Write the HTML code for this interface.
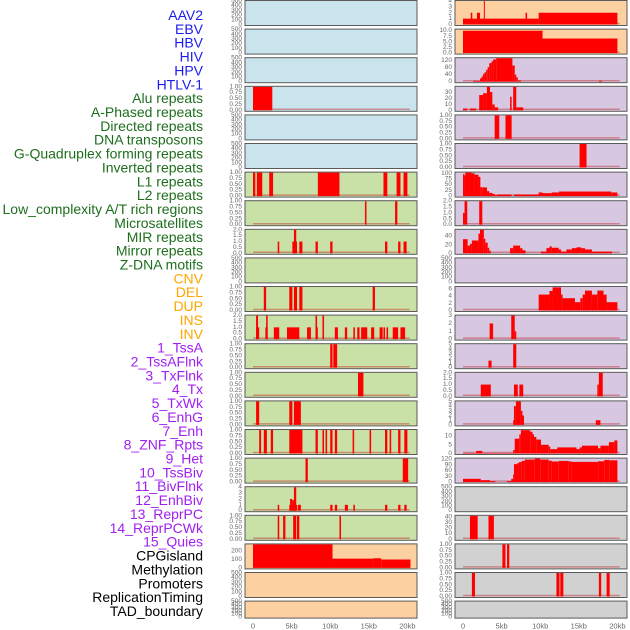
<!DOCTYPE html>
<html><head><meta charset="utf-8"><style>
html,body{margin:0;padding:0;background:#fff;width:630px;height:630px;overflow:hidden}
svg{display:block;font-family:"Liberation Sans",sans-serif}
</style></head><body>
<svg id="chart" width="630" height="630" viewBox="0 0 630 630" xmlns="http://www.w3.org/2000/svg">
<g id="labels"></g>
<g id="panels"></g>
<g id="xaxis"></g>
</svg>
<script>
const trackLabels = ["AAV2","EBV","HBV","HIV","HPV","HTLV-1","Alu repeats","A-Phased repeats","Directed repeats","DNA transposons","G-Quadruplex forming repeats","Inverted repeats","L1 repeats","L2 repeats","Low_complexity A/T rich regions","Microsatellites","MIR repeats","Mirror repeats","Z-DNA motifs","CNV","DEL","DUP","INS","INV","1_TssA","2_TssAFlnk","3_TxFlnk","4_Tx","5_TxWk","6_EnhG","7_Enh","8_ZNF_Rpts","9_Het","10_TssBiv","11_BivFlnk","12_EnhBiv","13_ReprPC","14_ReprPCWk","15_Quies","CPGisland","Methylation","Promoters","ReplicationTiming","TAD_boundary"];
const labelGroups = [6,13,5,15,5];
const groupColors = ["#1c1cf0","#1e6e1e","#ffa500","#a020f0","#000000"];
const xTickLabels = ["0","5kb","10kb","15kb","20kb"];
const xTickValues = [0,5,10,15,20];

const T500 = ["0","100","200","300","400","500"];
const T1 = ["0.00","0.25","0.50","0.75","1.00"];
const T2 = ["0.0","0.5","1.0","1.5","2.0"];
const T4 = ["0","1","2","3","4"];

const leftBgs = ["B","B","B","B","B","B","G","G","G","G","G","G","G","G","G","G","G","G","G","P","P","P"];
const leftTicks = [T500,T500,T500,T1,T500,T500,T1,T1,T2,T500,T1,T2,T1,T1,T1,T1,T1,T4,T1,["0","100","200"],T500,T500];
const leftYmax = [500,500,500,1,500,500,1,1,2,500,1,2,1,1,1,1,1,4,1,280,500,500];
const leftBars = [
 [],[],[],
 [[0,2.5,1]],
 [],[],
 [[0,0.3,1],[0.5,1.2,1],[2.1,2.6,1],[8.4,11.2,1],[16.9,17.4,1],[18.6,19.1,1],[19.5,20,1]],
 [[14.5,14.7,1],[18.4,18.7,1]],
 [[3.2,3.4,1],[5.1,5.7,1],[5.3,5.6,2],[6.0,6.4,1],[8.1,8.4,1],[10.0,10.3,1],[17.1,17.4,1],[18.8,19.1,1],[19.5,19.9,1]],
 [],
 [[1.4,1.7,1],[4.7,5.1,1],[5.3,5.7,1],[6.0,6.4,1],[15.5,15.8,1]],
 [[0.4,0.8,1],[0.4,0.65,2],[1.6,1.9,1],[1.7,1.9,2],[2.7,3.4,1],[4.4,6.0,1],[7.0,7.5,1],[8.1,8.4,1],[8.1,8.3,2],[9.0,9.2,2],[10.6,11.0,1],[11.9,12.2,1],[13.0,13.2,1],[13.5,13.8,1],[14.0,14.8,1],[15.3,15.7,1],[16.4,16.8,1],[16.9,17.1,1],[17.3,17.5,1],[18.1,18.8,1],[19.1,19.7,1]],
 [[10.0,10.3,1],[10.4,10.9,1]],
 [[13.6,14.3,1]],
 [[0.4,0.8,1],[4.7,5.1,1],[5.3,6.2,1]],
 [[0.8,1.05,1],[1.4,1.8,1],[2.3,2.6,1],[4.7,6.4,1],[8.1,8.4,1],[9.0,9.2,1],[9.4,9.6,1],[10.0,10.3,1],[10.6,10.9,1],[12.9,13.1,1],[15.1,15.3,1],[17.1,17.4,1],[17.7,17.9,1],[18.8,19.1,1],[19.6,20,1]],
 [[6.8,7.1,1],[19.4,20.1,1]],
 [[3.2,3.4,1],[4.7,5.7,1],[4.8,5.1,2],[5.1,5.3,1.8],[5.3,5.6,4],[5.8,6.2,1],[10.0,10.3,1],[10.6,10.9,1],[11.9,12.3,1],[13.0,13.2,1],[17.1,17.4,1],[18.8,19.1,1],[19.6,19.9,1]],
 [[3.2,3.4,1],[3.9,4.2,1],[5.2,5.6,1],[5.7,6.0,1],[11.2,11.4,1]],
 [[0,10.3,280],[10.3,15.6,110],[15.6,16.6,115],[16.6,20.4,100]],
 [],[]
];

const rightBgs = ["P","P","U","U","U","U","U","U","U","U","U","U","U","U","U","U","U","R","R","R","R","R"];
const rightTicks = [T4,["0.0","2.5","5.0","7.5","10.0"],["0","40","80","120"],["0","10","20","30"],T1,T1,["0","25","50","75","100"],T2,["0","20","40"],T500,["0","2","4","6"],["0","1","2","3"],["0","1","2","3","4","5"],T2,["0","1","2","3","4","5"],["0","5","10"],["0","30","60","90","120"],T500,["0","10","20","30","40"],T1,T1,T500];
const rightYmax = [4,10.5,132,40,1,1,103,2,55,500,6.5,3,5,2,5,13.5,122,500,42,1,1,500];
const rightBars = [
 [[0,9.8,1],[1.0,1.2,2],[1.8,2.2,2],[2.7,2.8,4],[8.1,8.3,2],[9.8,20,2]],
 [[0,10.3,10],[10.3,20,6.5]],
 [[1.3,2.2,5],[2.2,2.4,18],[2.4,2.6,29],[2.6,2.8,44],[2.8,3.0,53],[3.0,3.2,67],[3.2,3.4,82],[3.4,3.7,104],[3.7,3.9,115],[3.9,4.3,125],[4.3,6.4,132],[6.4,6.7,91],[6.7,6.9,40],[6.9,7.1,25],[7.1,7.5,7],[17.6,18.0,5]],
 [[0,0.55,3],[0.9,1.7,3],[2.1,2.6,26],[2.6,3.1,29],[3.1,3.5,40],[3.5,3.8,31],[3.8,4.1,10],[4.1,4.55,5],[6.1,6.3,23],[6.5,6.9,40],[6.9,7.8,5]],
 [[4.1,4.7,1],[5.5,6.3,1]],
 [[15.1,16.0,1]],
 [[0,0.2,96],[0.2,0.3,90],[0.3,1.1,103],[1.1,1.5,100],[1.5,2.0,94],[2.0,2.25,84],[2.25,2.5,39],[2.5,3.1,38],[3.1,3.4,22],[3.4,3.8,14],[3.8,4.1,10],[4.1,4.4,4],[4.4,6.3,7],[6.6,9.8,7],[9.8,10.3,16],[10.3,11.5,13],[11.5,12.4,16],[12.4,19.2,20],[19.2,20,16]],
 [[0,0.2,1],[0.2,0.55,2],[2.1,2.5,2]],
 [[0,0.6,33],[0.6,0.9,18],[0.9,1.15,22],[1.15,2.0,30],[2.0,2.2,46],[2.2,2.7,55],[2.7,2.9,34],[2.9,3.2,25],[3.2,3.4,13],[3.4,3.6,6],[6.1,6.5,12],[6.5,7.4,18],[7.4,7.7,12],[7.7,8.1,7],[10.1,10.8,4],[10.8,11.2,12],[11.2,11.5,16],[11.5,12.4,13],[12.4,12.7,9],[12.7,13.4,4],[13.4,14.1,9],[14.1,14.7,12],[14.7,15.3,14],[15.3,15.8,12],[15.8,16.7,9],[16.7,19.3,4]],
 [],
 [[9.8,11.2,4.4],[11.2,11.6,5.4],[11.6,12.7,6.4],[12.7,12.9,4.4],[12.9,14.5,3.4],[14.5,15.2,2.3],[15.2,15.5,3.4],[15.5,15.8,4.4],[15.8,16.7,5.5],[16.7,17.4,4.4],[17.4,18.2,5.5],[18.2,18.6,4.4],[18.6,20,2.3]],
 [[3.45,3.9,2],[6.25,6.7,3],[6.7,6.9,1]],
 [[3.3,3.7,1.5],[6.5,6.9,5]],
 [[2.3,3.6,1],[6.6,7.1,1],[7.3,7.8,1],[17.4,17.6,1],[17.6,18.1,2]],
 [[6.5,6.6,1],[6.6,6.85,4],[6.85,7.5,5],[7.5,7.7,3],[7.7,7.9,2],[17.2,17.8,1]],
 [[0,1.7,0.3],[1.7,2.5,1.5],[2.5,6.5,0.3],[6.5,6.7,2],[6.7,7.3,8.5],[7.3,7.5,11],[7.5,8.7,13.4],[8.7,9.0,12.5],[9.0,9.2,11],[9.2,9.5,9.5],[9.5,10.1,8],[10.1,11.1,5],[11.1,11.3,4],[11.3,12.2,2.5],[12.2,14.7,3.5],[14.7,15.1,2.5],[15.1,15.4,3.5],[15.4,17.5,4.5],[17.5,17.8,3],[17.8,18.9,4.5],[18.9,19.6,6.5],[19.6,20,7.5]],
 [[0,2.3,17],[2.3,3.5,10],[3.5,4.2,5],[5.7,6.25,5],[6.25,6.5,17],[6.5,6.6,40],[6.6,7.0,93],[7.0,7.25,98],[7.25,7.6,104],[7.6,8.0,110],[8.0,9.3,117],[9.3,10.0,122],[10.0,11.1,117],[11.1,11.5,111],[11.5,12.4,107],[12.4,13.7,110],[13.7,14.1,107],[14.1,17.5,105],[17.5,18.3,108],[18.3,19.0,115],[19.0,20,113]],
 [],
 [[0.9,1.9,42],[3.3,4.0,42]],
 [[5.1,5.5,1],[5.7,6.0,1]],
 [[1.15,1.55,1],[12.1,12.5,1],[12.6,13.0,1],[17.6,17.9,1],[18.6,19.0,1]],
 []
];

const bgColors = {B:"#c9e4ec",G:"#c9e0a6",P:"#fdd0a2",U:"#d8c7e1",R:"#d1d1d1"};
const NS = "http://www.w3.org/2000/svg";
function mk(tag, attrs, parent){const e=document.createElementNS(NS,tag);for(const k in attrs)e.setAttribute(k,attrs[k]);parent.appendChild(e);return e;}

const lg = document.getElementById("labels");
let gi=0, gc=0;
trackLabels.forEach((t,i)=>{
  while(gc>=labelGroups[gi]){gi++;gc=0;}
  gc++;
  const el = mk("text",{x:203,y:15+i*13.86,"text-anchor":"end","dominant-baseline":"central","font-size":"14",fill:groupColors[gi]},lg);
  el.textContent=t;
  
  
});

const pg = document.getElementById("panels");
const kpx = 7.72;
function rowTop(r){return r*28.6;}
function rowH(r){return r===21?17:25;}
function drawCol(side, left, x0, bgs, ticks, ymaxs, bars){
  for(let r=0;r<22;r++){
    const top=rowTop(r), h=rowH(r);
    const g=mk("g",{},pg);
    
    
    const bg=mk("rect",{x:left,y:top+0.5,width:172,height:h,fill:bgColors[bgs[r]],stroke:"#5a5a5a","stroke-width":1},g);
    
    
    const y0=top+h-0.5, yt=top+1;
    const ymax=ymaxs[r];
    const ys=v=>y0-(v/ymax)*(y0-yt);
    const xs=k=>x0+k*kpx;
    ticks[r].forEach(s=>{
      const v=parseFloat(s);
      const tx=mk("text",{x:left-3,y:ys(v),"text-anchor":"end","dominant-baseline":"central","font-size":"6.5",fill:"#666"},g);
      tx.textContent=s;
      
      
    });
    if(bars[r].length && !(side==="left"&&r===19)){
      const bl=mk("line",{x1:xs(0),x2:xs(20.3),y1:y0-1,y2:y0-1,stroke:"rgba(190,40,40,0.45)","stroke-width":1.5},g);
      
      
    }
    bars[r].forEach(b=>{
      const yy=ys(b[2]);
      const rc=mk("rect",{x:xs(b[0]),y:yy,width:Math.max(1,xs(b[1])-xs(b[0])),height:Math.max(0.5,y0-yy),fill:"#ff0000"},g);
      
      
    });
  }
  const xa=document.getElementById("xaxis");
  xTickValues.forEach((v,i)=>{
    const t=mk("text",{x:x0+v*kpx,y:626,"text-anchor":"middle","dominant-baseline":"central","font-size":"7.5",fill:"#666"},xa);
    t.textContent=xTickLabels[i];
    
    
  });
}
drawCol("left",245,253,leftBgs,leftTicks,leftYmax,leftBars);
drawCol("right",455,463,rightBgs,rightTicks,rightYmax,rightBars);
</script>
</body></html>
